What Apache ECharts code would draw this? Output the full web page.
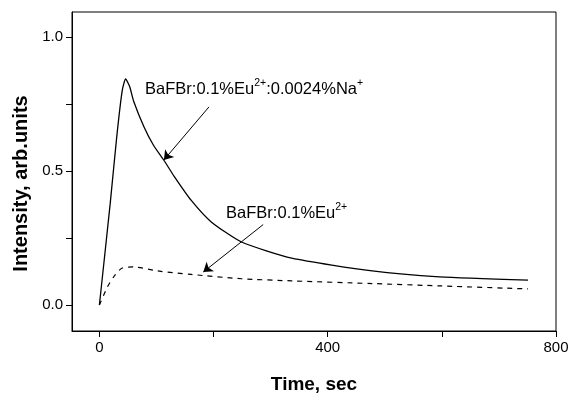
<!DOCTYPE html>
<html>
<head>
<meta charset="utf-8">
<script src="https://cdn.jsdelivr.net/npm/echarts@6/dist/echarts.min.js"></script>
<style>
  html, body { margin: 0; padding: 0; background: #fff; }
  #chart { width: 568px; height: 395px; }
</style>
</head>
<body>
<div id="chart"></div>
<script>
// solid curve: BaFBr:0.1%Eu2+:0.0024%Na+
const timeNa = [0, 19, 31, 40, 46, 53, 60, 78, 95, 113, 131, 161, 196, 249, 337, 478, 596, 751];
const intensityNa = [0, 0.38, 0.64, 0.80, 0.843, 0.815, 0.76, 0.665, 0.595, 0.54, 0.48, 0.39, 0.31, 0.235, 0.175, 0.127, 0.105, 0.093];

// dashed curve: BaFBr:0.1%Eu2+
const timeEu = [0, 14, 25, 40, 60, 102, 161, 249, 337, 478, 600, 751];
const intensityEu = [0, 0.067, 0.105, 0.138, 0.142, 0.127, 0.114, 0.098, 0.09, 0.08, 0.071, 0.06];

const xLabels = [0, 400, 800];
const xTicks = [0, 200, 400, 600, 800];
const yLabels = [0, 0.5, 1.0];
const yTicks = [0, 0.25, 0.5, 0.75, 1.0];

// annotation anchors in data units [time, intensity]
const labelNaAt = [80, 0.81];
const labelEuAt = [222, 0.347];
const arrowNa = [[192, 0.739], [113, 0.541]];
const arrowEu = [[287, 0.30], [182, 0.123]];

const font = 'Liberation Sans, Arial, sans-serif';

const chart = echarts.init(document.getElementById('chart'));

const supRich = {
    b: { fontSize: 16.5, fontFamily: font, color: '#000', lineHeight: 20, verticalAlign: 'bottom' },
    s: { fontSize: 10.5, fontFamily: font, color: '#000', lineHeight: 20, verticalAlign: 'top' }
};

function annotation(at, text) {
    return {
        coord: at,
        symbol: 'circle',
        symbolSize: 0,
        label: {
            show: true,
            position: 'right',
            distance: 0,
            formatter: text,
            rich: supRich
        }
    };
}

function arrow(pts) {
    return [
        { coord: pts[0], symbol: 'none' },
        { coord: pts[1], symbol: 'arrow', symbolSize: 9 }
    ];
}

const option = {
    animation: false,
    backgroundColor: '#fff',
    grid: {
        left: 72,
        right: 12,
        top: 12,
        bottom: 64,
        outerBoundsMode: 'none',
        show: true,
        borderColor: '#000',
        borderWidth: 1
    },
    xAxis: {
        type: 'value',
        min: -48,
        max: 800,
        name: 'Time, sec',
        nameLocation: 'middle',
        nameGap: 44,
        nameTextStyle: { fontSize: 19, fontFamily: font, color: '#000', fontWeight: 'bold' },
        splitLine: { show: false },
        axisLine: { show: true, onZero: false, lineStyle: { color: '#000', width: 1 } },
        axisTick: { show: true, customValues: xTicks, length: 6, lineStyle: { color: '#000' } },
        axisLabel: {
            customValues: xLabels,
            fontSize: 15,
            fontFamily: font,
            color: '#000',
            margin: 9
        }
    },
    yAxis: {
        type: 'value',
        min: -0.097,
        max: 1.093,
        name: 'Intensity, arb.units',
        nameLocation: 'middle',
        nameGap: 40,
        nameRotate: 90,
        nameTextStyle: {
            fontSize: 20, fontFamily: font, color: '#000', fontWeight: 'bold',
            padding: [0, 0, 0, -24]
        },
        splitLine: { show: false },
        axisLine: { show: true, onZero: false, lineStyle: { color: '#000', width: 1 } },
        axisTick: { show: true, customValues: yTicks, length: 6, lineStyle: { color: '#000' } },
        axisLabel: {
            customValues: yLabels,
            formatter: v => v.toFixed(1),
            fontSize: 15,
            fontFamily: font,
            color: '#000',
            margin: 9
        }
    },
    series: [
        {
            name: 'BaFBr:0.1%Eu2+:0.0024%Na+',
            type: 'line',
            data: timeNa.map((t, i) => [t, intensityNa[i]]),
            showSymbol: false,
            smooth: 0.2,
            lineStyle: { color: '#000', width: 1.3 },
            markPoint: {
                silent: true,
                data: [annotation(labelNaAt, '{b|BaFBr:0.1%Eu}{s|2+}{b|:0.0024%Na}{s|+}')]
            },
            markLine: {
                silent: true,
                symbol: ['none', 'arrow'],
                lineStyle: { color: '#000', width: 1, type: 'solid' },
                label: { show: false },
                data: [arrow(arrowNa)]
            }
        },
        {
            name: 'BaFBr:0.1%Eu2+',
            type: 'line',
            data: timeEu.map((t, i) => [t, intensityEu[i]]),
            showSymbol: false,
            smooth: 0.25,
            lineStyle: { color: '#000', width: 1.2, type: [5, 5] },
            markPoint: {
                silent: true,
                data: [annotation(labelEuAt, '{b|BaFBr:0.1%Eu}{s|2+}')]
            },
            markLine: {
                silent: true,
                symbol: ['none', 'arrow'],
                lineStyle: { color: '#000', width: 1, type: 'solid' },
                label: { show: false },
                data: [arrow(arrowEu)]
            }
        }
    ]
};

chart.setOption(option);
</script>
</body>
</html>
